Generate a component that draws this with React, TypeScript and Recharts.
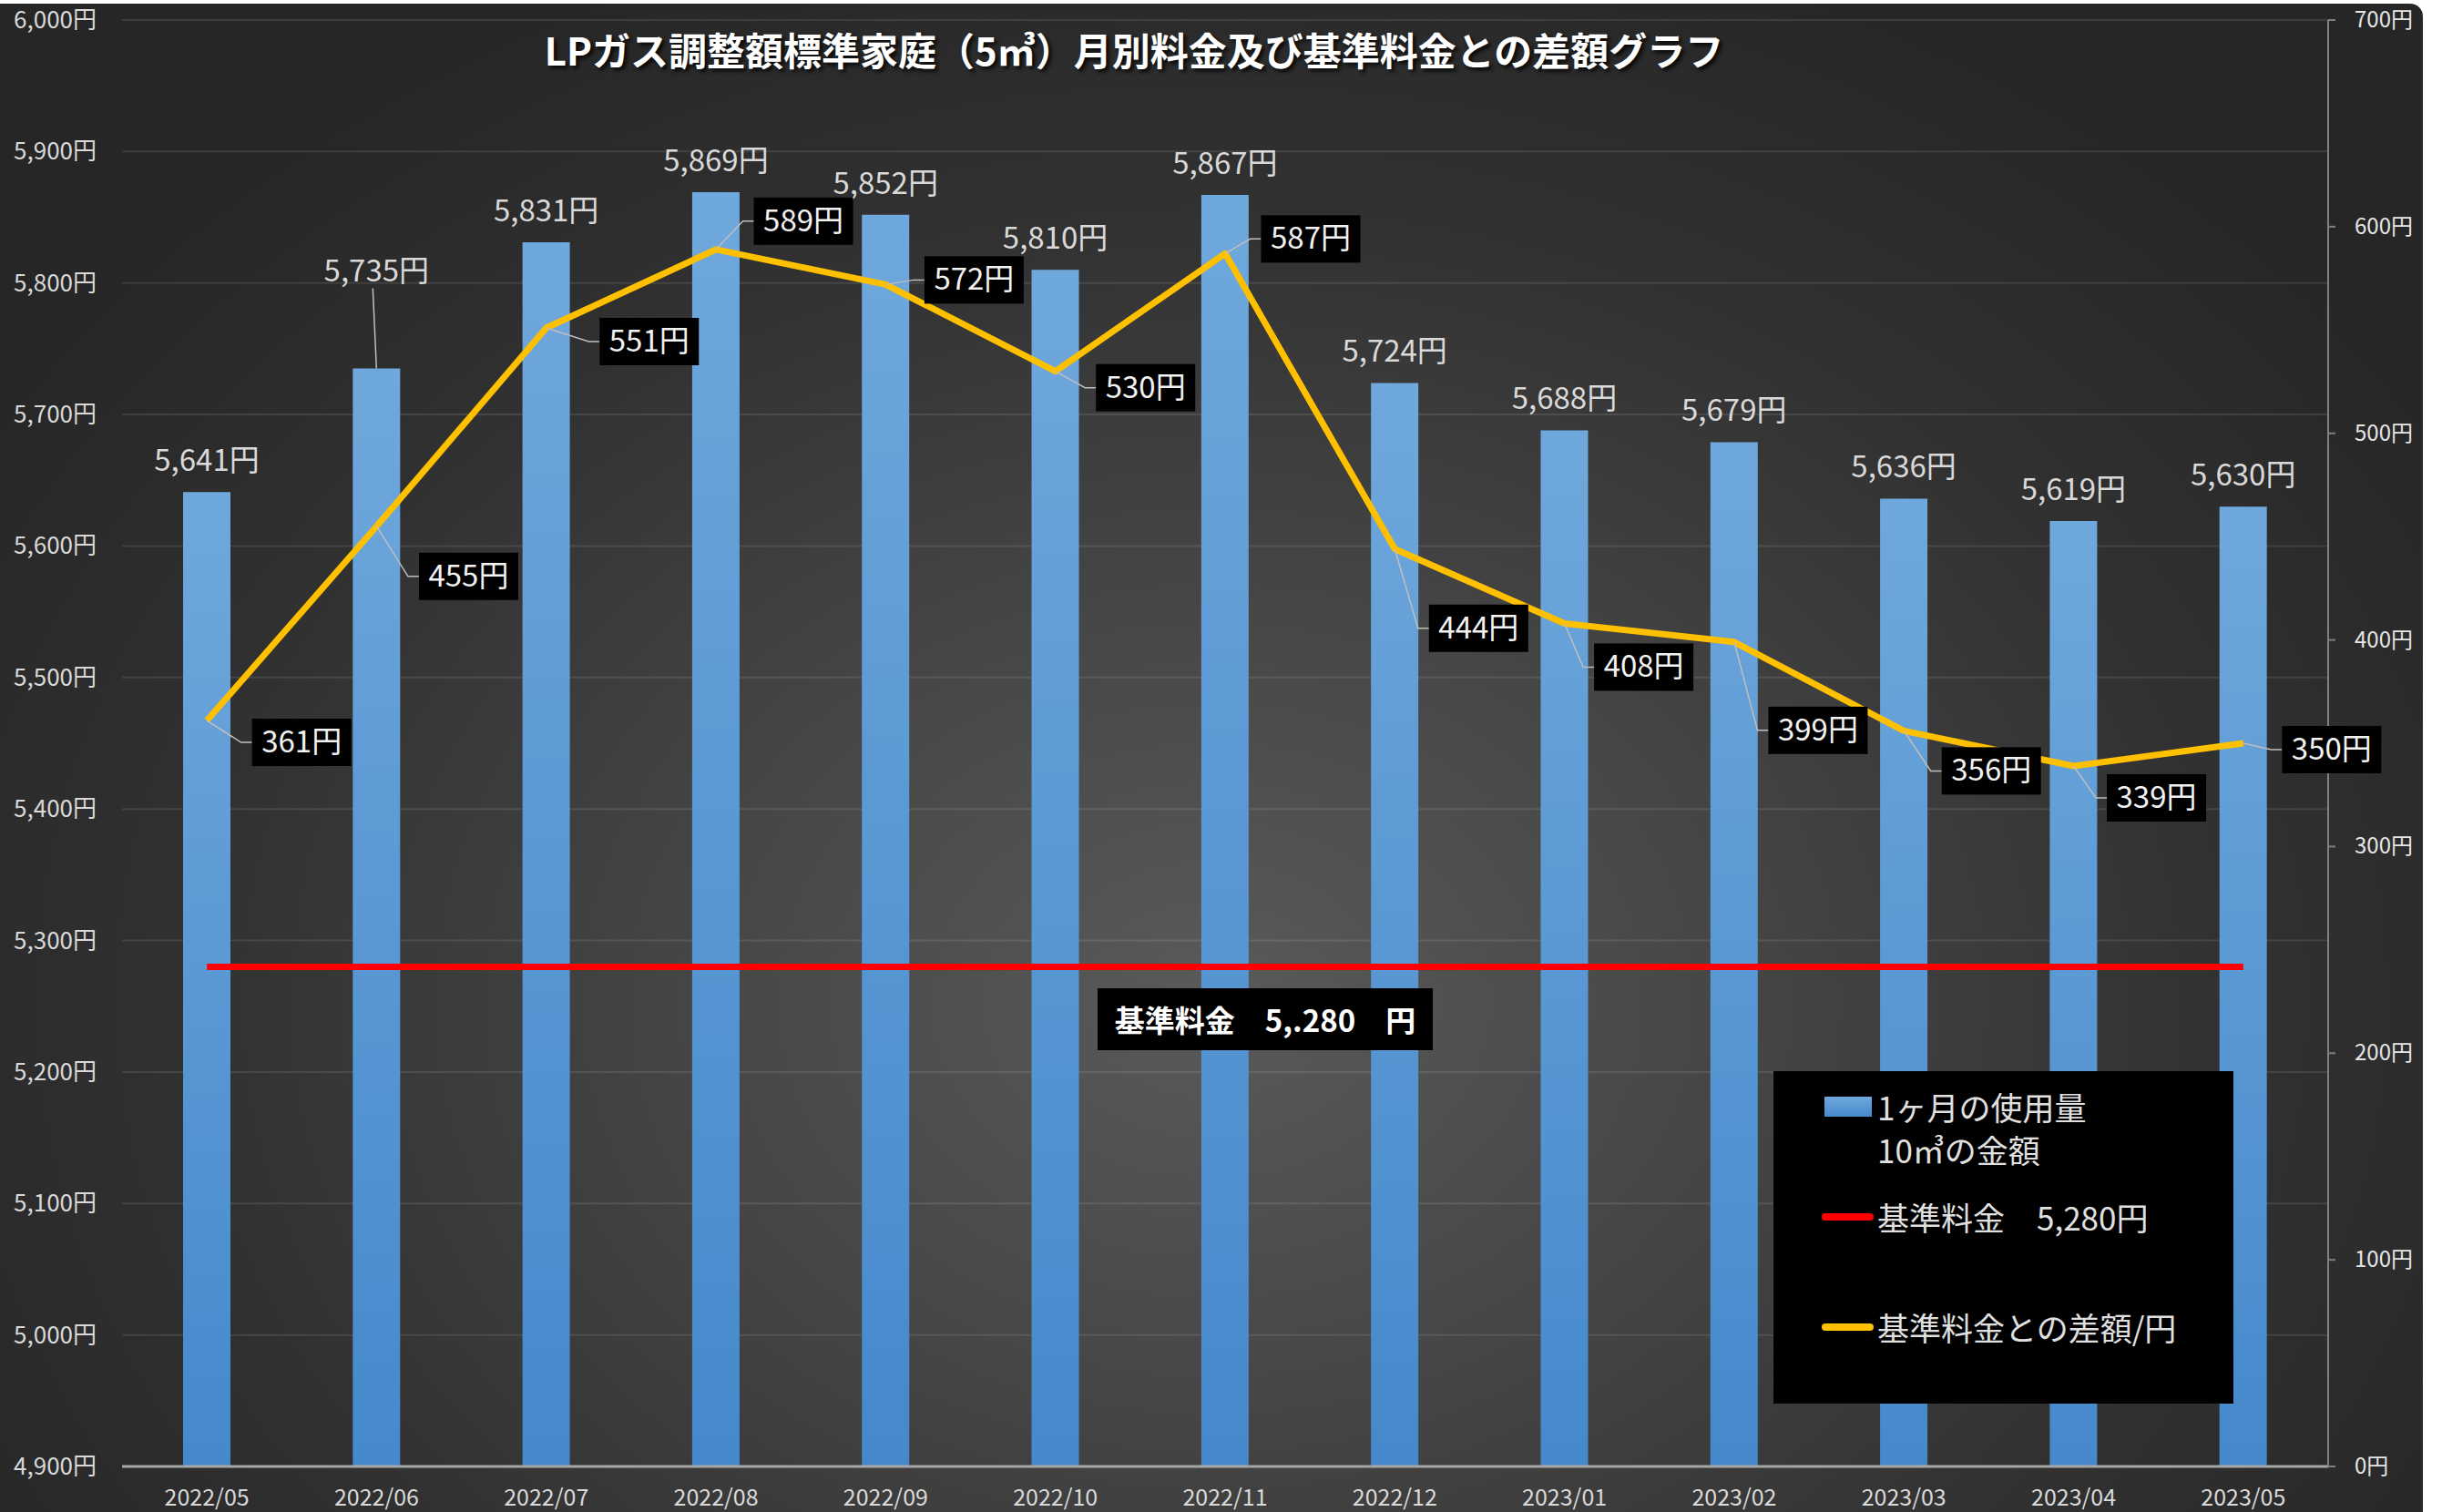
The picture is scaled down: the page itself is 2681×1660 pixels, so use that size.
import React from "react";
import {
  ComposedChart,
  Bar,
  Line,
  XAxis,
  YAxis,
  CartesianGrid,
  LabelList,
} from "recharts";

const months = [
  "2022/05", "2022/06", "2022/07", "2022/08", "2022/09", "2022/10", "2022/11",
  "2022/12", "2023/01", "2023/02", "2023/03", "2023/04", "2023/05",
];
// 1ヶ月の使用量 10㎥の金額
const monthlyCharge = [5641, 5735, 5831, 5869, 5852, 5810, 5867, 5724, 5688, 5679, 5636, 5619, 5630];
// 基準料金との差額/円
const diffFromBase = [361, 455, 551, 589, 572, 530, 587, 444, 408, 399, 356, 339, 350];
const baseFee = 5280;

const leftTicks = [4900, 5000, 5100, 5200, 5300, 5400, 5500, 5600, 5700, 5800, 5900, 6000];
const rightTicks = [0, 100, 200, 300, 400, 500, 600, 700];

const data = months.map((month, i) => ({
  month,
  charge: monthlyCharge[i],
  base: baseFee,
  diff: diffFromBase[i],
}));

// where each black label box sits relative to its point (layout only)
const diffLabelOffset: [number, number][] = [
  [104, 24], [101, 55], [113, 15], [96, -31], [97, -5], [99, 18], [94, -16],
  [92, 87], [87, 48], [92, 97], [96, 44], [91, 35], [97, 7],
];
// extra lift for bar labels that were dragged up in the original
const barLabelLift = [0, 73, 0, 0, 0, 0, 0, 0, 0, 0, 0, 0, 0];

const FONT = "'Noto Sans CJK JP', 'Noto Sans', sans-serif";
const yen = (v: number) => v.toLocaleString("en-US") + "円";

const LeftTick = (props: any) => {
  const { x, y, payload } = props;
  return (
    <text x={x} y={y} dy={9} textAnchor="end" fill="#d9d9d9" fontSize={26} fontFamily={FONT}>
      {yen(payload.value)}
    </text>
  );
};

const RightTick = (props: any) => {
  const { x, y, payload } = props;
  return (
    <text x={x} y={y} dy={8} textAnchor="start" fill="#e6e6e6" fontSize={24} fontFamily={FONT}>
      {yen(payload.value)}
    </text>
  );
};

const MonthTick = (props: any) => {
  const { x, y, payload } = props;
  return (
    <text x={x} y={y} dy={43} textAnchor="middle" fill="#d9d9d9" fontSize={25} fontFamily={FONT}>
      {payload.value}
    </text>
  );
};

const ChargeLabel = (props: any) => {
  const { x, y, width, value, index } = props;
  const cx = x + width / 2;
  const extra = barLabelLift[index] || 0;
  const cy = y - 35 - extra;
  return (
    <g>
      {extra > 0 && (
        <line x1={cx - 4} y1={cy + 20} x2={cx} y2={y} stroke="#bfbfbf" strokeWidth={1.5} />
      )}
      <text x={cx} y={cy} dy={12} textAnchor="middle" fill="#d9d9d9" fontSize={33} fontFamily={FONT}>
        {yen(value)}
      </text>
    </g>
  );
};

const DiffLabel = (props: any) => {
  const { x, y, value, index } = props;
  const [dx, dy] = diffLabelOffset[index];
  const bx = x + dx;
  const by = y + dy;
  const w = 109;
  const h = 52;
  const left = bx - w / 2;
  return (
    <g>
      <polyline
        points={`${x},${y} ${left - 12},${by} ${left},${by}`}
        fill="none"
        stroke="#bfbfbf"
        strokeWidth={1.5}
      />
      <rect x={left} y={by - h / 2} width={w} height={h} fill="#000" />
      <text x={bx} y={by} dy={11} textAnchor="middle" fill="#f2f2f2" fontSize={33} fontFamily={FONT}>
        {value}円
      </text>
    </g>
  );
};

export default function App() {
  return (
    <div
      style={{
        position: "absolute",
        left: 0,
        top: 0,
        width: 2681,
        height: 1660,
        background: "#ffffff",
        fontFamily: FONT,
        overflow: "hidden",
      }}
    >
      <div
        style={{
          position: "absolute",
          left: 0,
          top: 4,
          width: 2660,
          height: 1656,
          borderTopRightRadius: 14,
          background:
            "radial-gradient(ellipse 60% 75% at 50% 66%, #5a5a5a 0%, #464646 35%, #313131 70%, #262626 100%)",
        }}
      >
        {/* chart sits a little higher so the top tick labels stay inside the svg */}
        <div style={{ position: "absolute", left: 0, top: -4 }}>
          <ComposedChart
            width={2660}
            height={1660}
            data={data}
            margin={{ top: 22, right: 0, bottom: 0, left: 0 }}
          >
            <defs>
              <linearGradient id="barFill" x1="0" y1="0" x2="0" y2="1">
                <stop offset="0%" stopColor="#6fa8dc" />
                <stop offset="100%" stopColor="#4589cc" />
              </linearGradient>
            </defs>

            <CartesianGrid
              yAxisId="left"
              vertical={false}
              stroke="rgba(255,255,255,0.1)"
              strokeWidth={2}
            />

            <XAxis
              dataKey="month"
              height={50}
              tickSize={0}
              tickMargin={0}
              tickLine={false}
              axisLine={{ stroke: "#a6a6a6", strokeWidth: 3 }}
              tick={<MonthTick />}
              interval={0}
            />
            <YAxis
              yAxisId="left"
              orientation="left"
              domain={[4900, 6000]}
              ticks={leftTicks}
              width={134}
              tickSize={0}
              tickMargin={28}
              axisLine={false}
              tickLine={false}
              tick={<LeftTick />}
              allowDataOverflow
            />
            <YAxis
              yAxisId="right"
              orientation="right"
              domain={[0, 700]}
              ticks={rightTicks}
              width={104}
              tickSize={8}
              tickMargin={21}
              axisLine={{ stroke: "#808080", strokeWidth: 2 }}
              tickLine={{ stroke: "#808080", strokeWidth: 2 }}
              tick={<RightTick />}
            />

            <Bar
              yAxisId="left"
              dataKey="charge"
              barSize={52}
              fill="url(#barFill)"
              isAnimationActive={false}
            >
              <LabelList dataKey="charge" content={<ChargeLabel />} />
            </Bar>

            <Line
              yAxisId="left"
              dataKey="base"
              type="linear"
              stroke="#ff0000"
              strokeWidth={7}
              dot={false}
              activeDot={false}
              isAnimationActive={false}
            />

            <Line
              yAxisId="right"
              dataKey="diff"
              type="linear"
              stroke="#ffc000"
              strokeWidth={7}
              strokeLinejoin="round"
              dot={false}
              activeDot={false}
              isAnimationActive={false}
            >
              <LabelList dataKey="diff" content={<DiffLabel />} />
            </Line>
          </ComposedChart>
        </div>

        {/* TITLE */}
        <div
          style={{
            position: "absolute",
            left: 1245,
            top: 49,
            transform: "translate(-50%, -50%)",
            whiteSpace: "nowrap",
            color: "#ffffff",
            fontSize: 42,
            fontWeight: 700,
            textShadow: "3px 3px 4px rgba(0,0,0,0.85)",
          }}
        >
          LPガス調整額標準家庭（5㎥）月別料金及び基準料金との差額グラフ
        </div>

        {/* BASE FEE BOX */}
        <div
          style={{
            position: "absolute",
            left: 1205,
            top: 1081,
            width: 368,
            height: 68,
            background: "#000",
            color: "#fff",
            fontSize: 33,
            fontWeight: 700,
            display: "flex",
            alignItems: "center",
            justifyContent: "center",
            whiteSpace: "pre",
          }}
        >
          基準料金　5,.280　円
        </div>

        {/* LEGEND */}
        <div
          style={{
            position: "absolute",
            left: 1947,
            top: 1172,
            width: 505,
            height: 365,
            background: "#000",
            color: "#e0e0e0",
            fontSize: 35,
          }}
        >
          <div
            style={{
              position: "absolute",
              left: 56,
              top: 28,
              width: 52,
              height: 22,
              background: "linear-gradient(#6fa8dc, #4589cc)",
            }}
          />
          <div style={{ position: "absolute", left: 114, top: 17, lineHeight: "44px", whiteSpace: "nowrap" }}>
            1ヶ月の使用量
          </div>
          <div style={{ position: "absolute", left: 114, top: 64, lineHeight: "44px", whiteSpace: "nowrap" }}>
            10㎥の金額
          </div>

          <div
            style={{
              position: "absolute",
              left: 53,
              top: 156,
              width: 57,
              height: 8,
              borderRadius: 4,
              background: "#ff0000",
            }}
          />
          <div style={{ position: "absolute", left: 114, top: 138, lineHeight: "44px", whiteSpace: "pre" }}>
            基準料金　5,280円
          </div>

          <div
            style={{
              position: "absolute",
              left: 53,
              top: 277,
              width: 57,
              height: 8,
              borderRadius: 4,
              background: "#ffc000",
            }}
          />
          <div style={{ position: "absolute", left: 114, top: 259, lineHeight: "44px", whiteSpace: "nowrap" }}>
            基準料金との差額/円
          </div>
        </div>
      </div>
    </div>
  );
}
